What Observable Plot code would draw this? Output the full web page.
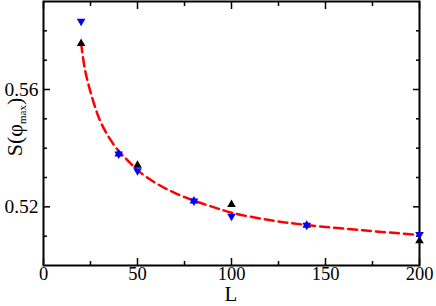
<!DOCTYPE html>
<html>
<head>
<meta charset="utf-8">
<script src="https://cdn.jsdelivr.net/npm/d3@7"></script>
<script src="https://cdn.jsdelivr.net/npm/@observablehq/plot@0.6"></script>
<style>
  html, body { margin: 0; padding: 0; background: #fff; }
  #chart svg { display: block; }
</style>
</head>
<body>
<div id="chart"></div>
<script>
// Data
const L_blue = [20, 40, 50, 80, 100, 140, 200];
const S_blue = [0.5833, 0.5380, 0.5323, 0.5220, 0.5168, 0.5137, 0.5106];
const L_black = [20, 50, 100, 200];
const S_black = [0.5757, 0.5342, 0.5208, 0.5084];
const L_star = [40, 80, 140];
const S_star = [0.5380, 0.5220, 0.5137];
const L_fit = [20, 22, 25, 30, 35, 40, 45, 50, 60, 70, 80, 90, 100, 120, 140, 170, 200];
const S_fit = [0.5757, 0.5670, 0.5592, 0.5495, 0.5435, 0.5390, 0.5357, 0.5325, 0.5280, 0.5247, 0.5221, 0.5200, 0.5180, 0.5155, 0.5138, 0.5120, 0.5104];
const xMajor = [0, 50, 100, 150, 200];
const xMinor = [25, 75, 125, 175];
const yMajor = [0.52, 0.56];
const yMinor = [0.51, 0.53, 0.54, 0.55, 0.57, 0.58];

const blue = L_blue.map((L, i) => ({L, S: S_blue[i]}));
const black = L_black.map((L, i) => ({L, S: S_black[i]}));
const star = L_star.map((L, i) => ({L, S: S_star[i]}));
const fit = L_fit.map((L, i) => ({L, S: S_fit[i]}));

const font = "'Liberation Serif', 'DejaVu Serif', serif";

const plot = Plot.plot({
  width: 436,
  height: 306,
  marginLeft: 43,
  marginRight: 17,
  marginTop: 1,
  marginBottom: 41,
  style: {fontFamily: font, fontSize: "19px", color: "#000", background: "#fff"},
  x: {domain: [0, 200]},
  y: {domain: [0.50, 0.59]},
  marks: [
    // tick labels
    Plot.axisX(xMajor, {anchor: "bottom", tickSize: 0, tickPadding: 1, fontSize: 18.5, label: null}),
    Plot.axisY(yMajor, {anchor: "left", tickSize: 0, tickPadding: 5, fontSize: 19.5, label: null, tickFormat: d3.format(".2f")}),
    // inward ticks
    Plot.axisX(xMajor, {anchor: "bottom", tickSize: -7, text: null, label: null, strokeWidth: 1.5}),
    Plot.axisX(xMinor, {anchor: "bottom", tickSize: -4, text: null, label: null, strokeWidth: 1.5}),
    Plot.axisX(xMajor, {anchor: "top", tickSize: -7, text: null, label: null, strokeWidth: 1.5}),
    Plot.axisX(xMinor, {anchor: "top", tickSize: -4, text: null, label: null, strokeWidth: 1.5}),
    Plot.axisY(yMajor, {anchor: "left", tickSize: -7, text: null, label: null, strokeWidth: 1.5}),
    Plot.axisY(yMinor, {anchor: "left", tickSize: -4, text: null, label: null, strokeWidth: 1.5}),
    Plot.axisY(yMajor, {anchor: "right", tickSize: -7, text: null, label: null, strokeWidth: 1.5}),
    Plot.axisY(yMinor, {anchor: "right", tickSize: -4, text: null, label: null, strokeWidth: 1.5}),
    Plot.frame({stroke: "#000", strokeWidth: 2}),
    Plot.line(fit, {x: "L", y: "S", stroke: "#ff0000", strokeWidth: 2.5, strokeDasharray: "9,5", curve: "catmull-rom"}),
    Plot.dot(black, {x: "L", y: "S", symbol: "triangle", r: 3.2, fill: "#000", stroke: "none"}),
    Plot.dot(star, {x: "L", y: "S", symbol: "triangle", r: 3.2, fill: "#0000ff", stroke: "none"}),
    Plot.dot(blue, {x: "L", y: "S", symbol: "triangle", r: 3.2, rotate: 180, fill: "#0000ff", stroke: "none"})
  ]
});

const svg = d3.select(plot);
// x-axis label
svg.append("text")
  .attr("x", 231).attr("y", 301)
  .attr("text-anchor", "middle")
  .attr("font-family", font).attr("font-size", 21).attr("fill", "#000")
  .text("L");
// y-axis label with subscript
const yl = svg.append("text")
  .attr("transform", "translate(22,127) rotate(-90)")
  .attr("text-anchor", "middle")
  .attr("font-family", font).attr("font-size", 22).attr("fill", "#000");
yl.append("tspan").text("S(φ");
yl.append("tspan").attr("font-size", 11).attr("dy", 4).text("max");
yl.append("tspan").attr("dy", -4).text(")");

document.getElementById("chart").appendChild(plot);
</script>
</body>
</html>
